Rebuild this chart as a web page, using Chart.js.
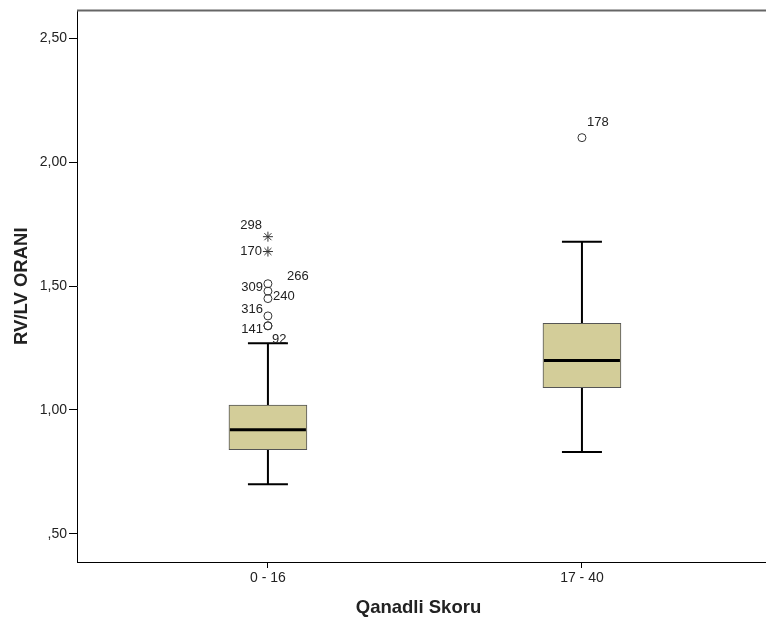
<!DOCTYPE html>
<html>
<head>
<meta charset="utf-8">
<title>RV/LV ORANI</title>
<script src="https://cdn.jsdelivr.net/npm/chart.js@4/dist/chart.umd.min.js"></script>
<style>
    html, body { margin: 0; padding: 0; background: #fff; }
    #wrap { width: 766px; height: 621px; }
</style>
</head>
<body>
<div id="wrap"><canvas id="boxChart" width="766" height="621"></canvas></div>
<script>
// Box plot data (read from the SPSS output)
const categories = ['0 - 16', '17 - 40'];
const whiskerLow = [0.70, 0.83];
const quart1 = [0.84, 1.09];
const medians = [0.92, 1.20];
const quart3 = [1.02, 1.35];
const whiskerHigh = [1.27, 1.68];

// Outliers (circles) and extremes (stars)
const outlierCat = [0, 0, 0, 0, 0, 0, 1];
const outlierVal = [1.51, 1.48, 1.45, 1.38, 1.34, 1.34, 2.10];
const outlierIds = ['309', '266', '240', '316', '141', '92', '178'];
const extremeCat = [0, 0];
const extremeVal = [1.70, 1.64];
const extremeIds = ['298', '170'];

const yTicks = [0.5, 1.0, 1.5, 2.0, 2.5];

// Label placement next to each point: [dx, dy, align]
const outlierLabelPos = [[-5, 4, 'right'], [19, -15, 'left'], [5, -2, 'left'], [-5, -6, 'right'], [-5, 4, 'right'], [4, 14, 'left'], [5, -15, 'left']];
const extremeLabelPos = [[-6, -11, 'right'], [-6, 0, 'right']];

const FONT = "'Liberation Sans', Arial, sans-serif";
const BOX_WIDTH = 78;
const CAP_WIDTH = 40;

const formatTick = v => v.toFixed(2).replace('.', ',').replace(/^0/, '');

// Whiskers, medians, frame and point labels drawn through the chart's scales
const boxParts = {
    id: 'boxParts',
    beforeDatasetsDraw(chart) {
        const { ctx, scales: { x, y } } = chart;
        ctx.save();
        ctx.strokeStyle = '#000';
        ctx.lineWidth = 2;
        categories.forEach((c, i) => {
            const cx = x.getPixelForValue(i + 1);
            ctx.beginPath();
            ctx.moveTo(cx, y.getPixelForValue(whiskerLow[i]));
            ctx.lineTo(cx, y.getPixelForValue(quart1[i]));
            ctx.moveTo(cx, y.getPixelForValue(quart3[i]));
            ctx.lineTo(cx, y.getPixelForValue(whiskerHigh[i]));
            [whiskerLow[i], whiskerHigh[i]].forEach(v => {
                const py = y.getPixelForValue(v);
                ctx.moveTo(cx - CAP_WIDTH / 2, py);
                ctx.lineTo(cx + CAP_WIDTH / 2, py);
            });
            ctx.stroke();
        });
        ctx.restore();
    },
    afterDatasetsDraw(chart) {
        const { ctx, chartArea, scales: { x, y } } = chart;
        ctx.save();
        // median lines
        ctx.strokeStyle = '#000';
        ctx.lineWidth = 3;
        categories.forEach((c, i) => {
            const cx = x.getPixelForValue(i + 1);
            const py = y.getPixelForValue(medians[i]);
            ctx.beginPath();
            ctx.moveTo(cx - BOX_WIDTH / 2 + 1, py);
            ctx.lineTo(cx + BOX_WIDTH / 2 - 1, py);
            ctx.stroke();
        });

        // frame: top line and bottom axis line run out to the canvas edge
        ctx.strokeStyle = '#666';
        ctx.lineWidth = 2;
        ctx.beginPath();
        ctx.moveTo(chartArea.left, chartArea.top);
        ctx.lineTo(chart.width, chartArea.top);
        ctx.stroke();
        ctx.strokeStyle = '#000';
        ctx.lineWidth = 1;
        ctx.beginPath();
        ctx.moveTo(chartArea.left, Math.round(chartArea.bottom) + 0.5);
        ctx.lineTo(chart.width, Math.round(chartArea.bottom) + 0.5);
        ctx.stroke();

        // case labels
        ctx.fillStyle = '#222';
        ctx.font = '13px ' + FONT;
        ctx.textBaseline = 'middle';
        const drawLabels = (cats, vals, ids, pos) => {
            ids.forEach((id, i) => {
                const px = x.getPixelForValue(cats[i] + 1);
                const py = y.getPixelForValue(vals[i]);
                ctx.textAlign = pos[i][2];
                ctx.fillText(id, px + pos[i][0], py + pos[i][1]);
            });
        };
        drawLabels(outlierCat, outlierVal, outlierIds, outlierLabelPos);
        drawLabels(extremeCat, extremeVal, extremeIds, extremeLabelPos);
        ctx.restore();
    }
};

const ctx = document.getElementById('boxChart');

new Chart(ctx, {
    type: 'bar',
    data: {
        datasets: [{
            type: 'scatter',
            data: outlierVal.map((v, i) => ({ x: outlierCat[i] + 1, y: v })),
            pointStyle: 'circle',
            pointRadius: 4,
            borderColor: '#333',
            backgroundColor: 'rgba(255,255,255,0)',
            borderWidth: 1
        }, {
            type: 'scatter',
            data: extremeVal.map((v, i) => ({ x: extremeCat[i] + 1, y: v })),
            pointStyle: 'star',
            pointRadius: 5,
            borderColor: '#333',
            borderWidth: 1
        }, {
            type: 'bar',
            data: categories.map((c, i) => ({ x: i + 1, y: [quart1[i], quart3[i]] })),
            backgroundColor: '#d3cd99',
            borderColor: '#555',
            borderWidth: 1,
            borderSkipped: false,
            barThickness: BOX_WIDTH
        }]
    },
    options: {
        responsive: false,
        animation: false,
        layout: { padding: { top: 7, right: 0, bottom: 0, left: 0 } },
        plugins: {
            legend: { display: false },
            tooltip: { enabled: false }
        },
        scales: {
            x: {
                type: 'linear',
                offset: false,
                min: 0.392,
                max: 2.567,
                afterBuildTicks: scale => { scale.ticks = categories.map((c, i) => ({ value: i + 1 })); },
                afterFit: scale => { scale.height = 59; },
                ticks: {
                    callback: v => categories[v - 1],
                    color: '#222',
                    font: { family: FONT, size: 14 },
                    padding: 2,
                    maxRotation: 0,
                    autoSkip: false
                },
                grid: { offset: false, drawOnChartArea: false, drawTicks: true, tickLength: 6, color: '#000' },
                border: { display: true, color: '#000', width: 1 },
                title: {
                    display: true,
                    text: 'Qanadli Skoru',
                    color: '#222',
                    font: { family: FONT, size: 18.5, weight: 'bold' },
                    padding: { top: 0, bottom: 2 }
                }
            },
            y: {
                type: 'linear',
                min: 0.386,
                max: 2.614,
                afterBuildTicks: scale => { scale.ticks = yTicks.map(v => ({ value: v })); },
                afterFit: scale => { scale.width = 77; },
                ticks: {
                    callback: v => formatTick(v),
                    color: '#222',
                    font: { family: FONT, size: 14 },
                    padding: 2
                },
                grid: { drawOnChartArea: false, drawTicks: true, tickLength: 8, color: '#000' },
                border: { display: true, color: '#000', width: 1 },
                title: {
                    display: true,
                    text: 'RV/LV ORANI',
                    color: '#222',
                    font: { family: FONT, size: 18.5, weight: 'bold' },
                    padding: { top: 11, bottom: 0 }
                }
            }
        }
    },
    plugins: [boxParts]
});
</script>
</body>
</html>
